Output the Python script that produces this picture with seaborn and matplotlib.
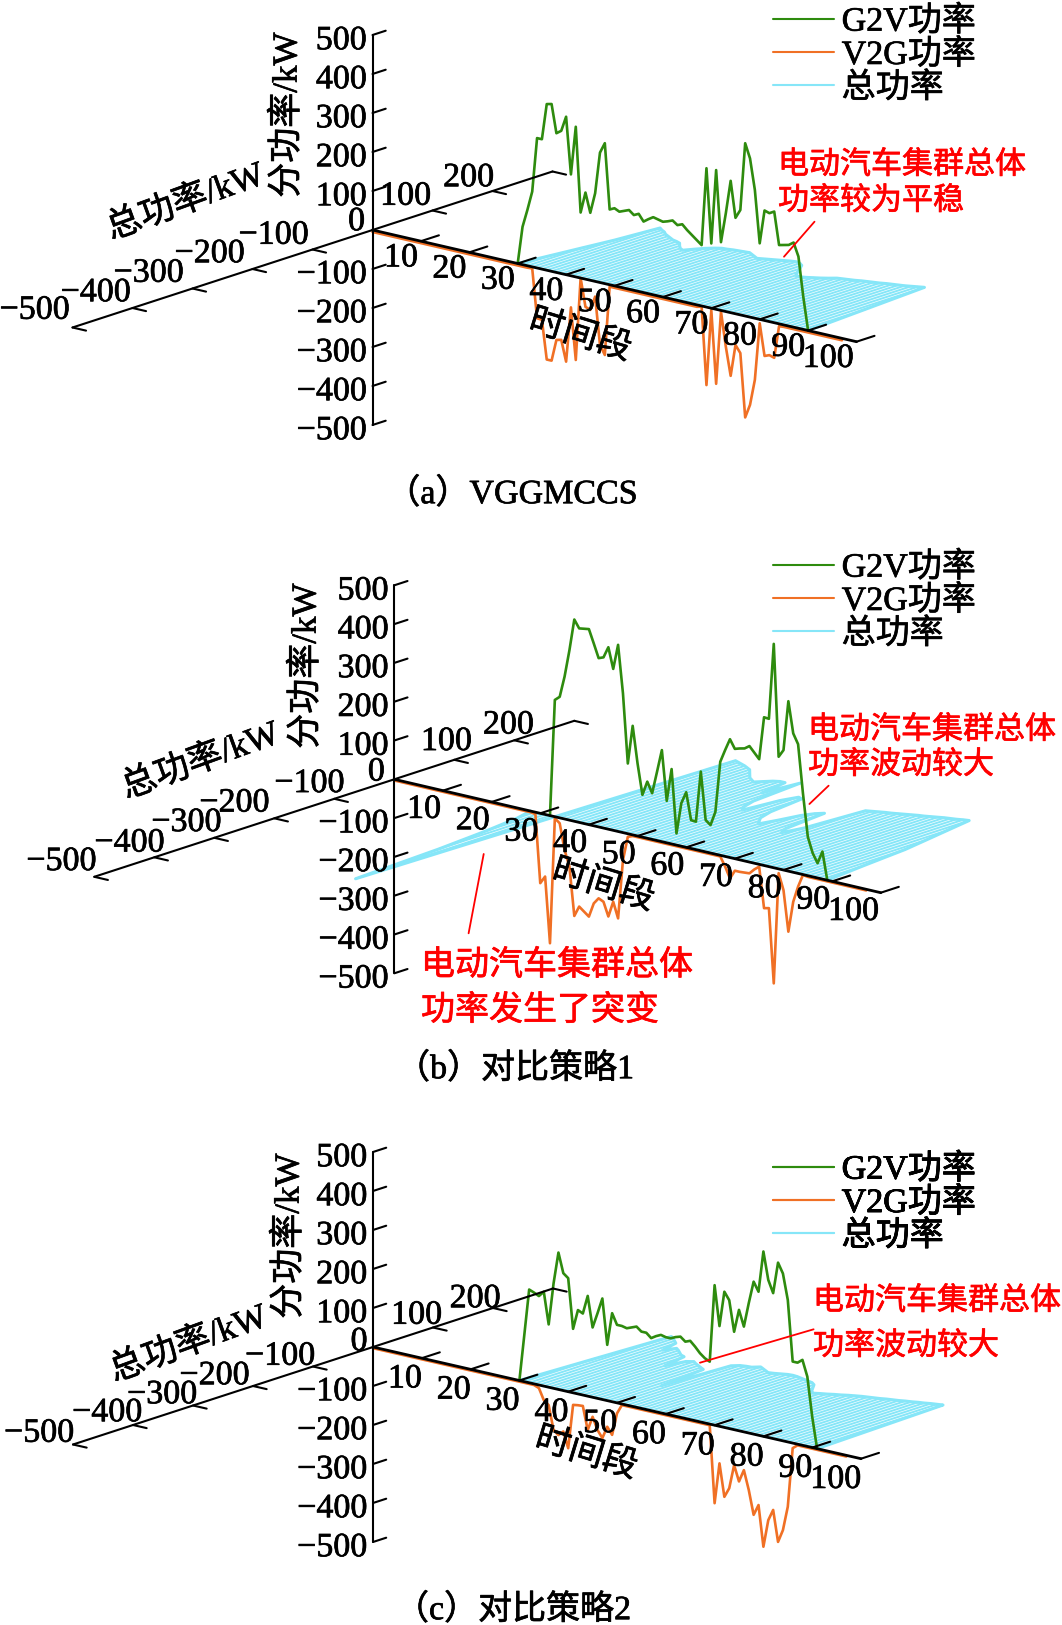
import numpy as np
import pandas as pd
import matplotlib
matplotlib.use('Agg')
import matplotlib.pyplot as plt
import matplotlib.patheffects as pe
from matplotlib.lines import Line2D
import seaborn as sns

# values, kW per time period
g2v_a = [0, 97, 143, 193, 333, 333, 426, 429, 357, 366, 405, 260, 385, 168, 222, 173, 226, 333, 360, 193,
         199, 193, 198, 203, 193, 199, 182, 191, 199, 196, 193, 197, 202, 193, 198, 186, 176, 166, 156, 356,
         166, 357, 175, 252, 338, 246, 269, 443, 407, 329, 195, 282, 278, 285, 202, 205, 208, 217, 184, 84, 0]
v2g_a = [-5]*33 + [-4, -129, -130, -229, -229, -173, -170, -223, -81, -213, 0, -71, -76, -39, -160, -183, -5] \
    + [-5]*18 + [-2, -200, -5, -191, -3, -90, -162, -80, -98, -260, -225, -158, -10, -91, -86, -90, -6] + [-5]*13
total_a = [0, 46, 92, 137, 205, 200, 196, 190, 186, 182, 178, 176, 173, 165, 158, 154, 165, 175, 182, 187,
           188, 190, 191, 192, 193, 189, 185, 181, 184, 187, 190, 193, 196, 198, 196, 191, 180, 168, 157, 155,
           158, 162, 166, 171, 177, 179, 181, 183, 186, 188, 190, 192, 195, 197, 199, 201, 204, 207, 210, 105, 0]

g2v_b = [0, 301, 312, 367, 438, 520, 500, 502, 504, 470, 435, 440, 469, 416, 481, 359, 181, 281, 187, 109,
         146, 119, 177, 236, 108, 193, 30, 111, 142, 73, 72, 204, 82, 72, 109, 241, 274, 305, 283, 287,
         290, 299, 285, 271, 382, 381, 577, 289, 309, 438, 358, 333, 209, 100, 61, 38, 71, 0]
v2g_b = [-3]*29 + [-5, -180, -160, -329, -4, -14, -80, -120, -244, -217, -227, -237, -200, -184, -190, -225, -184,
                   -224, -71, -8] + [-3]*19 \
    + [-26, -54, -31, -31, -30, -29, -16, -6, -110, -107, -298, -11, -52, -156, -76, -34, -1] + [-3]*13
total_b = [0, -30, -90, -177, -324, 0, 293, 290, 287, 284, 280, 276, 268, 260, 252, 247, 242, 250, 258, 262,
           262, 215, 271, 185, 160, 150, 205, 228, 225, 165, 140, 130, 120, 145, 175, 190, 198, 125, 110, 140,
           234, 237, 240, 243, 245, 248, 251, 254, 257, 259, 262, 265, 268, 270, 272, 275, 277, 233, 190, 146, 68, 0]

g2v_c = [0, 119, 239, 234, 228, 242, 161, 269, 351, 301, 291, 164, 215, 209, 257, 179, 218, 259, 143, 227,
         200, 200, 197, 202, 207, 197, 197, 186, 194, 200, 197, 197, 203, 207, 197, 202, 190, 176, 166, 160,
         359, 257, 348, 329, 251, 310, 270, 333, 391, 368, 474, 404, 373, 454, 429, 364, 209, 209, 219, 179, 79, 0]
v2g_c = [-3]*34 + [-8, -36, -46, -107, -117, -105, -145, -31, -29, -28, -87, -50, -81, -99, -67, -85, -27] \
    + [-3]*19 + [-200, -95, -178, -153, -91, -130, -98, -146, -207, -179, -283, -212, -183, -262, -229, -166, -13] + [-3]*11
total_c = [0, 120, 237, 232, 226, 220, 190, 205, 200, 194, 188, 185, 145, 172, 177, 172, 168, 164, 160, 82,
           190, 197, 199, 200, 207, 203, 199, 195, 197, 200, 203, 204, 203, 201, 199, 197, 195, 190, 180, 170,
           164, 168, 171, 175, 178, 182, 185, 188, 190, 192, 194, 197, 199, 201, 204, 206, 209, 211, 214, 216, 218, 0]

z_ticks = [-500, -400, -300, -200, -100, 100, 200, 300, 400, 500]
p_ticks = [-500, -400, -300, -200, -100, 100, 200, 300]
p_labels = [-500, -400, -300, -200, -100, 100, 200]
t_ticks = [10, 20, 30, 40, 50, 60, 70, 80, 90, 100]
legend_names = ['G2V功率', 'V2G功率', '总功率']

GREEN = '#2E8B0E'
ORANGE = '#F07025'
TEAL = '#86E6F8'
PT = 0.72  # px to pt at dpi 100
HEAVY = [pe.withStroke(linewidth=0.5, foreground='black')]

panels = [
    dict(g2v=g2v_a, v2g=v2g_a, total=total_a, g_start=30, p_start=30,
         o=(372.5, 230), tv=(4.84, 1.117), zs=0.39,
         poff=[(-38, -20), (-37, -18), (-44, -18), (-43, -18), (-39, -17), (-27, -17), (-24, -16)],
         zero=(-16, -11), tlab=(-3, 14), leg=(773, 6),
         zname=(288, 112), pname=(186, 200), tname=(580, 333),
         notes=[('电动汽车集群总体', 778, 163, 31), ('功率较为平稳', 778, 199, 31)],
         leads=[((784, 256.7), (814.5, 221.7))],
         cap=('（a）VGGMCCS', 512, 491)),
    dict(g2v=g2v_b, v2g=v2g_b, total=total_b, g_start=32, p_start=28,
         o=(394.3, 779.3), tv=(4.865, 1.134), zs=0.388,
         poff=[(-33, -18), (-25, -17), (-28, -18), (-40, -18), (-25, -18), (-8, -21), (-6, -18)],
         zero=(-18, -10), tlab=(-2, 16), leg=(773, 552),
         zname=(307, 663), pname=(201, 759), tname=(603, 883),
         notes=[('电动汽车集群总体', 808, 728, 31), ('功率波动较大', 808, 763, 31),
                ('电动汽车集群总体', 421, 963, 34), ('功率发生了突变', 421, 1008, 34)],
         leads=[((809.4, 804), (828.6, 785.7)), ((468.6, 933.3), (483.7, 854))],
         cap=('（b）对比策略1', 515, 1066)),
    dict(g2v=g2v_c, v2g=v2g_c, total=total_c, g_start=30, p_start=30,
         o=(373, 1347), tv=(4.88, 1.117), zs=0.39,
         poff=[(-34, -14), (-26, -15), (-31, -13.5), (-38.6, -13), (-33, -13), (-16.5, -15), (-18, -12)],
         zero=(-14, -8), tlab=(0, 18), leg=(773, 1154),
         zname=(290, 1233), pname=(189, 1342), tname=(586, 1451),
         notes=[('电动汽车集群总体', 813, 1299, 31), ('功率波动较大', 813, 1344, 31)],
         leads=[((700, 1362.7), (813.6, 1329.3))],
         cap=('（c）对比策略2', 513, 1607)),
]

sns.set_theme(style='white')
plt.rcParams['font.family'] = ['Liberation Serif', 'Noto Sans CJK SC']
plt.rcParams['axes.unicode_minus'] = True

fig = plt.figure(figsize=(10.62, 16.25), dpi=100)
ax = fig.add_axes([0, 0, 1, 1])
ax.set_xlim(0, 1062)
ax.set_ylim(1625, 0)
ax.set_axis_off()


def project(pan, t, p, z):
    # oblique view of (time, total power, split power) onto the page
    t, p, z = np.asarray(t, float), np.asarray(p, float), np.asarray(z, float)
    x = pan['o'][0] + t*pan['tv'][0] + p*0.6
    y = pan['o'][1] + t*pan['tv'][1] - p*0.195 - z*pan['zs']
    return x, y


def seg(pan, a, b, lw=1.5, color='black', zorder=5):
    x, y = project(pan, [a[0], b[0]], [a[1], b[1]], [a[2], b[2]])
    ax.plot(x, y, color=color, lw=lw, zorder=zorder, solid_capstyle='round')


def label(x, y, s, size=34, **kw):
    kw.setdefault('ha', 'center')
    kw.setdefault('va', 'center')
    kw.setdefault('color', 'black')
    t = ax.text(x, y + 3, s, fontsize=size*PT, zorder=8, **kw)
    t.set_path_effects([pe.withStroke(linewidth=0.5, foreground=kw['color'])])


for pan in panels:
    # total power: one stem per period lying on the floor of the box
    tt = np.arange(pan['p_start'], pan['p_start'] + len(pan['total']))
    sx, sy = project(pan, tt, pan['total'], 0*tt)
    bx, by = project(pan, tt, 0*tt, 0*tt)
    stems = pd.DataFrame({'t': np.r_[tt, tt], 'x': np.r_[bx, sx], 'y': np.r_[by, sy]})
    sns.lineplot(data=stems, x='x', y='y', units='t', estimator=None, sort=False,
                 color=TEAL, lw=1.4, ax=ax, legend=False, zorder=1)
    sns.lineplot(x=sx, y=sy, estimator=None, sort=False, color=TEAL, lw=2.2, ax=ax, legend=False, zorder=1)

    # V2G and G2V sit on the plane total power = 0
    t_v = np.arange(len(pan['v2g']))
    vx, vy = project(pan, t_v, 0*t_v, pan['v2g'])
    sns.lineplot(x=vx, y=vy, estimator=None, sort=False, color=ORANGE, lw=1.9, ax=ax, legend=False, zorder=2)
    t_g = np.arange(pan['g_start'], pan['g_start'] + len(pan['g2v']))
    gx, gy = project(pan, t_g, 0*t_g, pan['g2v'])
    sns.lineplot(x=gx, y=gy, estimator=None, sort=False, color=GREEN, lw=1.9, ax=ax, legend=False, zorder=3)

    # the three box axes
    seg(pan, (0, 0, -500), (0, 0, 500))
    seg(pan, (0, -500, 0), (0, 300, 0))
    seg(pan, (0, 0, 0), (100, 0, 0), lw=2.0)
    for z in z_ticks:
        seg(pan, (0, 0, z), (0, 22, z))
        x, y = project(pan, 0, 0, z)
        label(float(x) - 6, float(y) + 3, str(z).replace('-', '\u2212'), ha='right')
    for p in p_ticks:
        seg(pan, (0, p, 0), (2.8, p, 0))
    for p, off in zip(p_labels, pan['poff']):
        x, y = project(pan, 0, p, 0)
        label(float(x) + off[0], float(y) + off[1], str(p).replace('-', '\u2212'))
    ox, oy = project(pan, 0, 0, 0)
    label(float(ox) + pan['zero'][0], float(oy) + pan['zero'][1], '0')
    for t in t_ticks:
        seg(pan, (t, 0, 0), (t, 30, 0))
        x, y = project(pan, t, 0, 0)
        label(float(x) + pan['tlab'][0], float(y) + pan['tlab'][1], str(t), ha='right')

    label(*pan['zname'], '分功率/kW', size=35, rotation=90)
    label(*pan['pname'], '总功率/kW', size=35, rotation=20)
    label(*pan['tname'], '时间段', size=35, rotation=-17)

    for s, x, y, size in pan['notes']:
        label(x, y, s, size=size, ha='left', color='red')
    for a, b in pan['leads']:
        ax.plot([a[0], b[0]], [a[1], b[1]], color='red', lw=1.3, zorder=6)
    label(pan['cap'][1], pan['cap'][2], pan['cap'][0], size=34)

    handles = [Line2D([], [], color=c, lw=1.5) for c in (GREEN, ORANGE, TEAL)]
    leg = ax.legend(handles, legend_names, loc='upper left', frameon=False,
                    bbox_to_anchor=pan['leg'], bbox_transform=ax.transData,
                    fontsize=34*PT, handlelength=1.8, handletextpad=0.22,
                    labelspacing=0.05, borderpad=0, borderaxespad=0, labelcolor='black')
    for txt in leg.get_texts():
        txt.set_path_effects(HEAVY)
    ax.add_artist(leg)

fig.savefig('out.png', dpi=100)
plt.close(fig)
